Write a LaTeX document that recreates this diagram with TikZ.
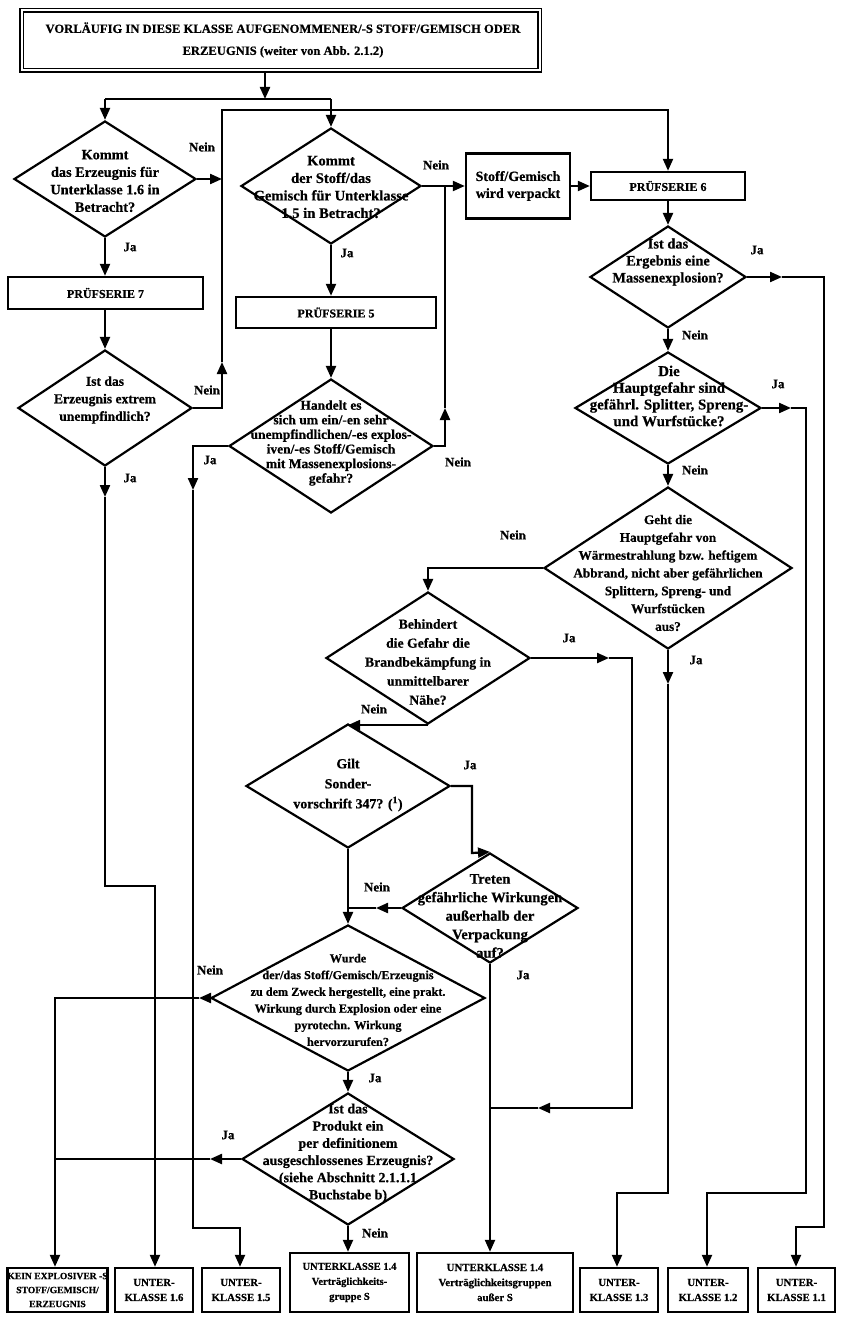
\documentclass[tikz,border=0pt]{standalone}
\usepackage{fontspec}
\setmainfont{Liberation Serif}[BoldFeatures={FakeBold=0.6}]
\usetikzlibrary{arrows.meta,shapes.geometric}
\newcommand{\fsz}[2]{\fontsize{#1pt}{#2pt}\selectfont\bfseries}
\begin{document}
\begin{tikzpicture}[x=1pt,y=-1pt,
  line width=2.2pt,
  >={Triangle[length=12pt,width=10pt]},
  dia/.style 2 args={shape=diamond, draw, line width=2.2pt, minimum width=#1 pt, minimum height=#2 pt, inner sep=0pt},
  box/.style 2 args={draw, line width=2.4pt, minimum width=#1 pt, minimum height=#2 pt, inner sep=0pt},
  tx/.style={align=center, inner sep=0pt, font=#1},
  lab/.style={inner sep=0pt, font=\fsz{13}{15}}]
\useasboundingbox (0,0) rectangle (841,1324);
% ---------- boxes ----------
\node[draw, double, double distance=2pt, line width=1.6pt, minimum width=518pt, minimum height=60pt, inner sep=0pt] (top) at (280.5,40.5) {};
\node[tx={\fsz{12.6}{22}}] (topt) at (283,40) {VORLÄUFIG IN DIESE KLASSE AUFGENOMMENER/-S STOFF/GEMISCH ODER\\ERZEUGNIS (weiter von Abb. 2.1.2)};
\node[box={104}{65}, tx={\fsz{14}{17}}] (vp) at (518,186) {Stoff/Gemisch\\wird verpackt};
\node[box={154}{28}, tx={\fsz{12}{14}}] (p6) at (668,186) {PRÜFSERIE 6};
\node[box={195}{32}, tx={\fsz{12}{14}}] (p7) at (105.5,293) {PRÜFSERIE 7};
\node[box={200}{31}, tx={\fsz{12}{14}}] (p5) at (336,312.5) {PRÜFSERIE 5};
% ---------- diamonds ----------
\node[dia={182}{116}] (d1) at (105,179) {};
\node[tx={\fsz{14.3}{17.5}}] (d1t) at (105,181) {Kommt\\das Erzeugnis für\\Unterklasse 1.6 in\\Betracht?};
\node[dia={180}{116}] (d2) at (331,186) {};
\node[tx={\fsz{14.6}{17.5}}] (d2t) at (331,187) {Kommt\\der Stoff/das\\Gemisch für Unterklasse\\1.5 in Betracht?};
\node[dia={174}{116}] (d3) at (105,408) {};
\node[tx={\fsz{13.6}{17.5}}] (d3t) at (105,400) {Ist das\\Erzeugnis extrem\\unempfindlich?};
\node[dia={204}{134}] (d4) at (331,446) {};
\node[tx={\fsz{13.5}{14.6}}] (d4t) at (331,443) {Handelt es\\sich um ein/-en sehr\\unempfindlichen/-es explos-\\iven/-es Stoff/Gemisch\\mit Massenexplosions-\\gefahr?};
\node[dia={156}{102}] (d5) at (668,277) {};
\node[tx={\fsz{14.4}{17}}] (d5t) at (668,262) {Ist das\\Ergebnis eine\\Massenexplosion?};
\node[dia={186}{112}] (d6) at (668,408) {};
\node[tx={\fsz{14.9}{16.7}}] (d6t) at (669,396) {Die\\Hauptgefahr sind\\gefährl. Splitter, Spreng-\\und Wurfstücke?};
\node[dia={248}{162}] (d7) at (668,568) {};
\node[tx={\fsz{13.2}{17.8}}] (d7t) at (668,573) {Geht die\\Hauptgefahr von\\Wärmestrahlung bzw. heftigem\\Abbrand, nicht aber gefährlichen\\Splittern, Spreng- und\\Wurfstücken\\aus?};
\node[dia={204}{132}] (d8) at (428,658) {};
\node[tx={\fsz{13.7}{19}}] (d8t) at (428,662) {Behindert\\die Gefahr die\\Brandbekämpfung in\\unmittelbarer\\Nähe?};
\node[dia={204}{124}] (d9) at (348,786) {};
\node[tx={\fsz{13.9}{20}}] (d9t) at (348,785) {Gilt\\Sonder-\\vorschrift 347? (\textsuperscript{1})};
\node[dia={176}{110}] (d10) at (490,908) {};
\node[tx={\fsz{14.6}{18.5}}] (d10t) at (490,916) {Treten\\gefährliche Wirkungen\\außerhalb der\\Verpackung\\auf?};
\node[dia={274}{146}] (d11) at (348,998) {};
\node[tx={\fsz{12.2}{16.7}}] (d11t) at (348,1000) {Wurde\\der/das Stoff/Gemisch/Erzeugnis\\zu dem Zweck hergestellt, eine prakt.\\Wirkung durch Explosion oder eine\\pyrotechn. Wirkung\\hervorzurufen?};
\node[dia={212}{132}] (d12) at (348,1159) {};
\node[tx={\fsz{14}{17.2}}] (d12t) at (348,1153) {Ist das\\Produkt ein\\per definitionem\\ausgeschlossenes Erzeugnis?\\(siehe Abschnitt 2.1.1.1\\Buchstabe b)};
% ---------- end boxes ----------
\node[box={99}{44}, tx={\fsz{9.6}{14}}] (b1) at (57.5,1290) {KEIN EXPLOSIVER -S\\STOFF/GEMISCH/\\ERZEUGNIS};
\node[box={78}{44}, tx={\fsz{10.8}{15}}] (b2) at (154,1290) {UNTER-\\KLASSE 1.6};
\node[box={78}{44}, tx={\fsz{10.8}{15}}] (b3) at (241,1290) {UNTER-\\KLASSE 1.5};
\node[box={119}{59}, tx={\fsz{10.5}{15}}] (b4) at (349.5,1282.5) {UNTERKLASSE 1.4\\Verträglichkeits-\\gruppe S};
\node[box={156}{59}, tx={\fsz{10.8}{15}}] (b5) at (495,1282.5) {UNTERKLASSE 1.4\\Verträglichkeitsgruppen\\außer S};
\node[box={78}{44}, tx={\fsz{10.8}{15}}] (b6) at (619,1290) {UNTER-\\KLASSE 1.3};
\node[box={80}{44}, tx={\fsz{10.8}{15}}] (b7) at (708,1290) {UNTER-\\KLASSE 1.2};
\node[box={77}{44}, tx={\fsz{10.8}{15}}] (b8) at (796.5,1290) {UNTER-\\KLASSE 1.1};
% ---------- coordinates ----------
\coordinate (j0) at (265,99);
\coordinate (v1) at (222,110);
\coordinate (v1b) at (222,408);
\coordinate (m1) at (222,362);
\coordinate (v2) at (445,186);
\coordinate (m2) at (445,408);
\coordinate (m3) at (105,497);
\coordinate (c3) at (105,886);
\coordinate (c3b) at (155,886);
\coordinate (c4) at (193,446);
\coordinate (m4) at (193,490);
\coordinate (c4b) at (193,1228);
\coordinate (c4c) at (240,1228);
\coordinate (m5) at (782,277);
\coordinate (c5) at (824,277);
\coordinate (c5b) at (824,1227);
\coordinate (c5c) at (796,1227);
\coordinate (m6) at (791,408);
\coordinate (c6) at (806,408);
\coordinate (c6b) at (806,1193);
\coordinate (c6c) at (707,1193);
\coordinate (m7) at (668,684);
\coordinate (c7b) at (668,1193);
\coordinate (c7c) at (617,1193);
\coordinate (m8) at (609,658);
\coordinate (c8) at (632,658);
\coordinate (c8b) at (632,1108);
\coordinate (m8b) at (538,1108);
\coordinate (c8c) at (490,1108);
\coordinate (c9) at (472,786);
\coordinate (c9b) at (472,853);
\coordinate (m10) at (376,908);
\coordinate (m11) at (199,998);
\coordinate (c11) at (55,998);
\coordinate (m12) at (210,1159);
\coordinate (c12) at (55,1159);
% ---------- connectors ----------
\draw[->] (top.south -| j0) -- (j0);
\draw (d1.north |- j0) -- (d2.north |- j0);
\draw[->] (d1.north |- j0) -- (d1.north);
\draw[->] (d2.north |- j0) -- (d2.north);
\draw[->] (d1.east) -- (d1.east -| v1);
\draw[->] (d3.east) -- (v1b) -- (m1);
\draw[->] (m1) -- (v1) -- (v1 -| p6.north) -- (p6.north);
\draw[->] (d1.south) -- (d1.south |- p7.north);
\draw[->] (p7.south -| d3.north) -- (d3.north);
\draw[->] (d3.south) -- (m3);
\draw[->] (m3) -- (c3) -- (c3b) -- (c3b |- b2.north);
\draw[->] (d2.east) -- (vp.west);
\draw[->] (d4.east) -- (d4.east -| v2) -- (m2);
\draw (m2) -- (v2);
\draw[->] (vp.east) -- (p6.west);
\draw[->] (d2.south) -- (d2.south |- p5.north);
\draw[->] (p5.south -| d4.north) -- (d4.north);
\draw[->] (d4.west) -- (c4) -- (m4);
\draw[->] (m4) -- (c4b) -- (c4c) -- (c4c |- b3.north);
\draw[->] (p6.south) -- (d5.north);
\draw[->] (d5.east) -- (m5);
\draw[->] (m5) -- (c5) -- (c5b) -- (c5c) -- (c5c |- b8.north);
\draw[->] (d5.south) -- (d6.north);
\draw[->] (d6.east) -- (m6);
\draw[->] (m6) -- (c6) -- (c6b) -- (c6c) -- (c6c |- b7.north);
\draw[->] (d6.south) -- (d7.north);
\draw[->] (d7.west) -- (d7.west -| d8.north) -- (d8.north);
\draw[->] (d7.south) -- (m7);
\draw[->] (m7) -- (c7b) -- (c7c) -- (c7c |- b6.north);
\draw[->] (d8.east) -- (m8);
\draw[->] (m8) -- (c8) -- (c8b) -- (m8b);
\draw (m8b) -- (c8c);
\draw[->] (d8.south) -- (d8.south -| d9.north);
\draw[->] (d9.east) -- (c9) -- (c9b) -- (d10.north);
\draw[->] (d9.south) -- (d11.north);
\draw[->] (d10.west) -- (m10);
\draw (m10) -- (d10.west -| d9.south);
\draw[->] (d10.south) -- (d10.south |- b5.north);
\draw[->] (d11.west) -- (m11);
\draw[->] (m11) -- (c11) -- (c11 |- b1.north);
\draw[->] (d11.south) -- (d12.north);
\draw[->] (d12.west) -- (m12);
\draw (m12) -- (c12);
\draw[->] (d12.south) -- (d12.south |- b4.north);
% ---------- labels ----------
\node[lab] (l1) at (202,147) {Nein};
\node[lab] (l2) at (130,247) {Ja};
\node[lab] (l3) at (207,390) {Nein};
\node[lab] (l4) at (130,478) {Ja};
\node[lab] (l5) at (436,165) {Nein};
\node[lab] (l6) at (347,253) {Ja};
\node[lab] (l7) at (210,460) {Ja};
\node[lab] (l8) at (458,462) {Nein};
\node[lab] (l9) at (757,250) {Ja};
\node[lab] (l10) at (695,335) {Nein};
\node[lab] (l11) at (778,384) {Ja};
\node[lab] (l12) at (695,470) {Nein};
\node[lab] (l13) at (513,535) {Nein};
\node[lab] (l14) at (696,660) {Ja};
\node[lab] (l15) at (569,638) {Ja};
\node[lab] (l16) at (374,709) {Nein};
\node[lab] (l17) at (470,765) {Ja};
\node[lab] (l18) at (377,887) {Nein};
\node[lab] (l19) at (523,975) {Ja};
\node[lab] (l20) at (210,970) {Nein};
\node[lab] (l21) at (375,1078) {Ja};
\node[lab] (l22) at (228,1135) {Ja};
\node[lab] (l23) at (375,1233) {Nein};
\end{tikzpicture}
\end{document}
